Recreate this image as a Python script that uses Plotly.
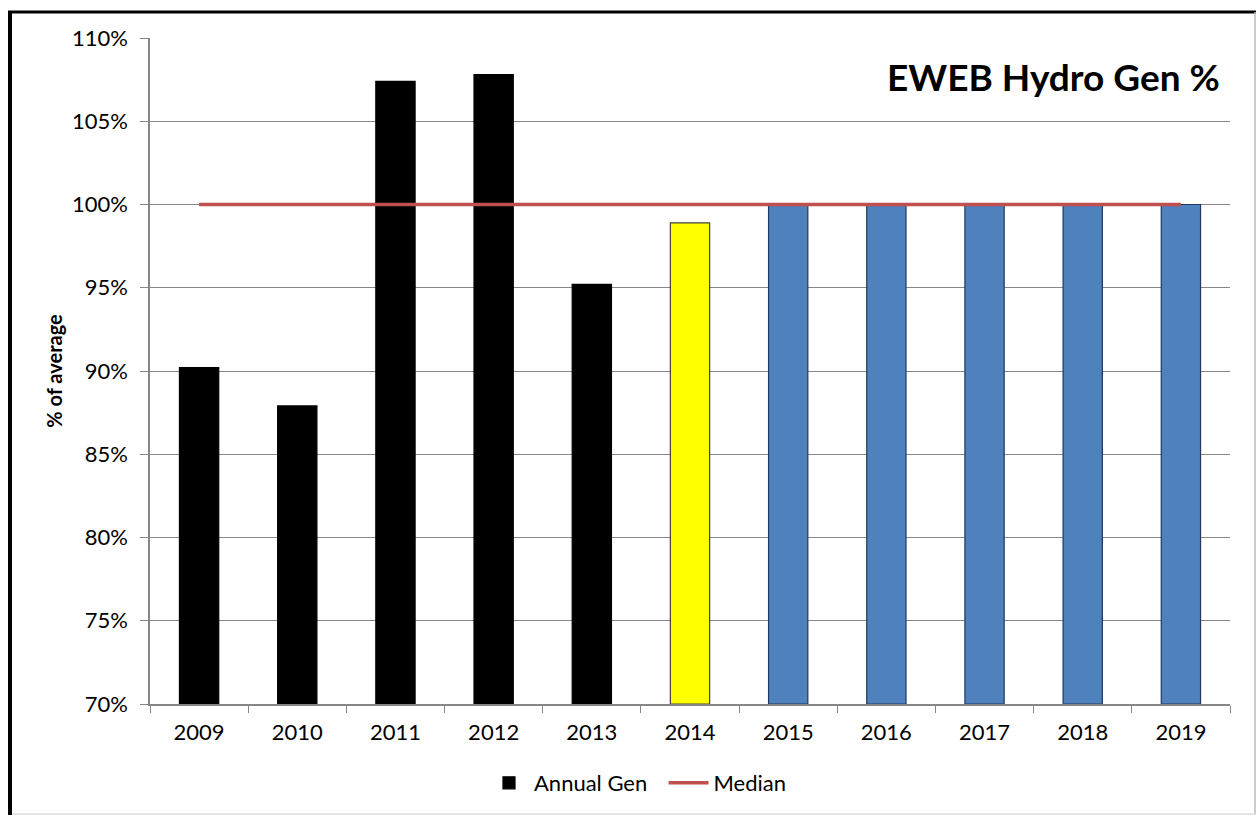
import plotly.graph_objects as go

years = ["2009", "2010", "2011", "2012", "2013", "2014", "2015", "2016", "2017", "2018", "2019"]
annual_gen = [90.2, 87.9, 107.4, 107.8, 95.2, 98.9, 100, 100, 100, 100, 100]
bar_colors = ["#000000"] * 5 + ["#FFFF00"] + ["#4F81BD"] * 5
bar_lines = ["#000000"] * 5 + ["#404040"] + ["#1F3864"] * 5
median = [100] * 11
y_ticks = [70, 75, 80, 85, 90, 95, 100, 105, 110]
y_labels = [f"{v}%" for v in y_ticks]

FONT = "Lato"

fig = go.Figure()
fig.add_trace(go.Bar(
    x=years, y=[v - 70 for v in annual_gen], base=70, name="Annual Gen\u00a0\u00a0",
    marker=dict(color=bar_colors, line=dict(color=bar_lines, width=1.2)),
    width=0.4,
))
fig.add_trace(go.Scatter(
    x=years, y=median, name="Median", mode="lines",
    line=dict(color="#C0504D", width=3.5),
))

L, R, T, B = 150, 27, 38, 113
PW, PH = 1257 - L - R, 817 - T - B

def px(x):
    return (x - L) / PW

def py(y):
    return 1 - (y - T) / PH

fig.update_layout(
    width=1257, height=817,
    margin=dict(l=L, r=R, t=T, b=B),
    paper_bgcolor="white", plot_bgcolor="white",
    font=dict(family=FONT, color="#000000"),
    showlegend=True,
    bargap=0.6,
    legend=dict(orientation="h", x=px(484), xanchor="left", y=py(783), yanchor="middle",
                font=dict(size=22, family=FONT), itemwidth=40, traceorder="normal"),
    xaxis=dict(
        type="category", showline=True, linecolor="#868686", linewidth=1.5,
        ticks="outside", tickson="boundaries", ticklen=7, tickcolor="#868686",
        tickfont=dict(size=22, family=FONT), showgrid=False, mirror=False,
        ticklabelstandoff=8,
    ),
    yaxis=dict(
        range=[70, 110], tickvals=y_ticks, ticktext=y_labels,
        showline=True, linecolor="#868686", linewidth=1.5,
        ticks="outside", ticklen=8, tickcolor="#868686",
        showgrid=True, gridcolor="#868686", gridwidth=1,
        tickfont=dict(size=22, family=FONT), zeroline=False,
        ticklabelstandoff=8,
        title=dict(text="<b>% of average</b>", font=dict(size=20, family=FONT), standoff=4),
    ),
    annotations=[dict(
        text="<b>EWEB Hydro Gen %</b>", xref="paper", yref="paper",
        x=px(1222), y=py(77), xanchor="right", yanchor="middle", showarrow=False,
        font=dict(size=37, family=FONT, color="#000000"),
    )],
    shapes=[
        dict(type="line", xref="paper", yref="paper", x0=px(10), x1=px(10), y0=py(12), y1=py(815),
             line=dict(color="#000000", width=4)),
        dict(type="line", xref="paper", yref="paper", x0=px(8), x1=px(1256), y0=py(12), y1=py(12),
             line=dict(color="#000000", width=3)),
        dict(type="line", xref="paper", yref="paper", x0=px(1255), x1=px(1255), y0=py(12), y1=py(815),
             line=dict(color="#BBBBBB", width=1.5)),
        dict(type="line", xref="paper", yref="paper", x0=px(12), x1=px(1256), y0=py(814), y1=py(814),
             line=dict(color="#DDDDDD", width=1.5)),
    ],
)

fig.write_html("out.html")
